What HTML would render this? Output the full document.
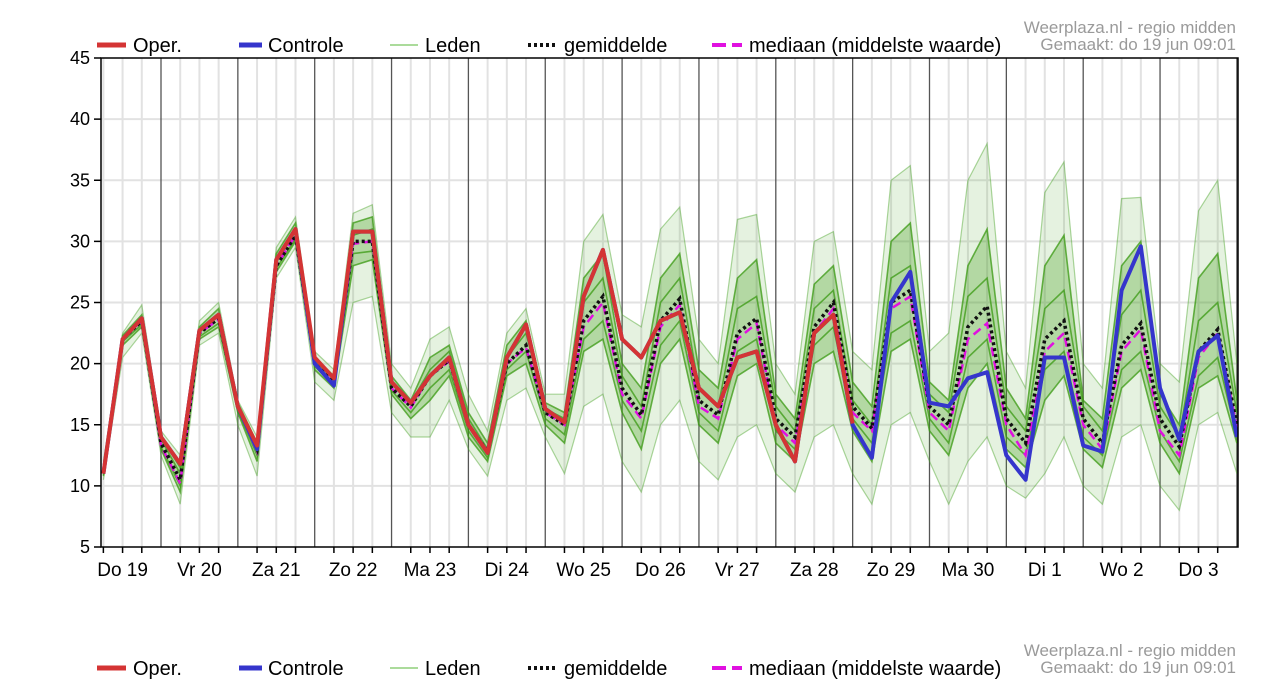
<!DOCTYPE html>
<html><head><meta charset="utf-8"><style>
html,body{margin:0;padding:0;background:#fff;width:1284px;height:680px;overflow:hidden}
svg{display:block}
text{font-family:"Liberation Sans",sans-serif}
</style></head><body>
<svg id="chart" width="1284" height="680"></svg>
<script>
const dayLabels=["Do 19","Vr 20","Za 21","Zo 22","Ma 23","Di 24","Wo 25","Do 26","Vr 27","Za 28","Zo 29","Ma 30","Di 1","Wo 2","Do 3"];
const yTicks=[5,10,15,20,25,30,35,40,45];
const oper=[11,22,23.7,14,11.8,22.7,24,16.5,13.3,28.5,31,20.5,18.8,30.8,30.8,18.5,16.8,19,20.5,15,12.7,20.5,23.2,16.3,15.2,25.5,29.3,22,20.5,23.5,24.2,18,16.5,20.5,21,15,12,22.5,24,15.1];
const controle=[11,22,23.7,14,11.8,22.7,24,16.5,13,28.5,31,20,18.2,30.8,30.8,18.5,16.8,19,20.5,15,12.7,20.5,23.2,16.3,15.2,25.5,29.3,22,20.5,23.5,24.2,18,16.5,20.5,21,15,12,22.5,24,15,12.3,25,27.5,16.8,16.5,18.8,19.3,12.5,10.5,20.5,20.5,13.3,12.8,26,29.6,18,13.8,21,22.3,14];
const gemiddelde=[11,22,23.5,13.5,10.5,22.5,23.7,16.5,13,28,30.5,20,18.5,30,30,18,16.5,19,20.3,15,12.8,20,21.5,16,15,23.5,25.5,18,15.8,23.5,25.3,17,15.8,22.5,23.7,15.5,14,23,25,16.5,14.7,25,26,16.5,15,23,24.7,15.5,13.5,22,23.5,15.5,13.5,21.5,23.3,15.5,13.2,21,22.8,15];
const mediaan=[11,22,23.5,13.3,10.2,22.5,23.6,16.4,12.8,28,30.5,20,18.4,29.8,30,18,16.4,19,20.2,15,12.7,20,21.3,16,15,23,25,17.5,15.5,23,24.8,16.5,15.5,22,23.3,15,13.5,22.5,24.5,16,14.5,24.5,25.5,16,14.5,22,23.3,15,12.5,21,22.5,15,13,21,22.8,14.5,12.5,20.5,22.5,14.8];
const ledenMax=[12,22.5,24.8,14.5,12.5,23.5,25,17,14,29.5,32,21,19.5,32.3,33,20,18,22,23,17.5,14.5,22.5,24.5,17.5,17.5,30,32.2,24,23,31,32.8,22,20,31.8,32.2,20,17.5,30,30.8,21,19.5,35,36.2,21,22.5,35,38,21,18,34,36.5,20,18,33.5,33.6,20,18.5,32.5,35,20];
const ledenMin=[10.5,20.5,22.5,12.5,8.5,21.5,22.5,15,10.8,27,29.5,18.5,17,25,25.5,16,14,14,17,13,10.8,17,18,14,11,16.5,17.5,12,9.5,15,17,12,10.5,14,15,11,9.5,14,15,11,8.5,15,16,12,8.5,12,14,10,9,11,14,10,8.5,14,15,10,8,15,16,11];
const ledenA=[11.5,22.3,24,14,11.5,23,24.5,16.8,13.5,29,31.5,20.5,19,31.5,32,19,17,20.5,21.5,16,13.5,21.5,23.5,16.8,16,27,29,20,18,27,29,19.5,18,27,28.5,17.5,15.5,26.5,28,18.5,16.5,30,31.5,18.5,17,28,31,18,15.5,28,30.5,17,15.5,28,30,17.5,15,27,29,17];
const ledenB=[10.8,21.5,23,13,9.5,22,23,16,12,27.5,30,19.5,18,28,28.5,17.5,15.5,17,19,14,12,19,20,15,13.5,21,22,16,13,20,22,15,13.5,19,20,13.5,12,20,21,14.5,12,21,22,14.5,12.5,18,20,13,11.5,17,19,13,11.5,18,19.5,13.5,11,18,19,13.5];
const ledenC=[11,22,23.8,13.8,11,22.8,24,16.6,13.2,28.5,30.8,20.2,18.7,30.5,31,18.5,16.8,19.5,21,15.5,13,20.5,22.5,16.3,15.5,25,27,19,16.5,25,27,18,16.5,24.5,25.5,16.5,14.5,24.5,26,17,15,27,28,17.5,16,25.5,27,16.5,14.5,24.5,26,16.5,14.5,24,26,16.5,14,23.5,25,16];
const ledenD=[10.9,21.8,23.2,13.2,10,22.2,23.3,16.2,12.5,27.8,30.2,19.8,18.2,29,29.2,17.8,16,18,19.5,14.5,12.3,19.5,21,15.5,14.2,22,23.5,17,14.5,21.5,23.5,16,14.5,21,22,14.5,13,21.5,23,15.5,13.5,22.5,23.5,15.5,13.5,20.5,22,14,12.5,19.5,21,14,12.5,19.5,21,14.5,12,19,20.5,14];

const NS="http://www.w3.org/2000/svg";
const svg=document.getElementById('chart');
const L=101,R=1238,T=58,B=547;
const pxH=76.85/24, day0=161;
function xh(h){return day0+(h-18)*pxH;}
function xi(i){return xh(i*6);}
function y(v){return B-(v-5)*(B-T)/40;}
function el(tag,attrs,parent){const e=document.createElementNS(NS,tag);for(const k in attrs)e.setAttribute(k,attrs[k]);(parent||svg).appendChild(e);return e;}

const grid=el('g',{});


yTicks.forEach(v=>{ if(v>5&&v<45) el('line',{x1:L,x2:R,y1:y(v),y2:y(v),stroke:'#e2e2e2','stroke-width':2},grid); });
for(let h=0;h*pxH+xh(0)<R;h+=6){
  const x=xh(h); if(x<L+1) continue;
  const mid=((h+6)%24===0);
  el('line',{x1:x,x2:x,y1:T,y2:B,stroke:mid?'#555':'#e2e2e2','stroke-width':mid?1.3:2},grid);
  if(!mid) el('line',{x1:x,x2:x,y1:B,y2:B+6,stroke:'#000','stroke-width':1.5},grid);
}
function pts(arr){return arr.map((v,i)=>xi(i).toFixed(1)+','+y(v).toFixed(1)).join(' ');}
function bandPts(a,b){return pts(a)+' '+b.map((v,i)=>xi(i).toFixed(1)+','+y(v).toFixed(1)).reverse().join(' ');}
const clip=el('clipPath',{id:'pc'});el('rect',{x:L,y:T,width:R-L,height:B-T},clip);
const plot=el('g',{'clip-path':'url(#pc)'});


const band=el('polygon',{points:bandPts(ledenMax,ledenMin),fill:'#5cb03c','fill-opacity':0.16},plot);


const core=el('polygon',{points:bandPts(ledenA,ledenB),fill:'#3f9c18','fill-opacity':0.3},plot);


[ledenMax,ledenMin].forEach(m=>{
  const p=el('polyline',{points:pts(m),fill:'none',stroke:'#4aa428','stroke-width':1.2,'stroke-opacity':0.45},plot);
  
  
});
[ledenA,ledenB,ledenC,ledenD].forEach(m=>{
  const p=el('polyline',{points:pts(m),fill:'none',stroke:'#3a9a12','stroke-width':1.6,'stroke-opacity':0.75},plot);
  
  
});
const pm=el('polyline',{points:pts(mediaan),fill:'none',stroke:'#e010e0','stroke-width':2.5,'stroke-dasharray':'9,5'},plot);


const pg=el('polyline',{points:pts(gemiddelde),fill:'none',stroke:'#111','stroke-width':3.5,'stroke-dasharray':'3,3'},plot);


const pc=el('polyline',{points:pts(controle),fill:'none',stroke:'#3535cc','stroke-width':4,'stroke-linejoin':'round'},plot);


const po=el('polyline',{points:pts(oper),fill:'none',stroke:'#d43434','stroke-width':4,'stroke-linejoin':'round'},plot);



const frame=el('rect',{x:L,y:T,width:R-L,height:B-T,fill:'none',stroke:'#000','stroke-width':1.5});


yTicks.forEach(v=>{
  el('line',{x1:L-7,x2:L,y1:y(v),y2:y(v),stroke:'#000','stroke-width':1.5});
  const t=el('text',{x:90,y:y(v)+6,'text-anchor':'end','font-size':18,fill:'#000'});t.textContent=v;
  
  
});
dayLabels.forEach((d,k)=>{
  const t=el('text',{x:xh(6+24*k),y:576,'text-anchor':'middle','font-size':19,fill:'#000'});t.textContent=d;
  
  
});
function legend(yy){
  const g=el('g',{});
  
  
  el('line',{x1:97,x2:126,y1:yy,y2:yy,stroke:'#d43434','stroke-width':5},g);
  el('line',{x1:239,x2:262,y1:yy,y2:yy,stroke:'#3535cc','stroke-width':5},g);
  el('line',{x1:390,x2:418,y1:yy,y2:yy,stroke:'#8fcf7a','stroke-width':1.5},g);
  el('line',{x1:528,x2:555,y1:yy,y2:yy,stroke:'#111','stroke-width':4,'stroke-dasharray':'3,3'},g);
  el('line',{x1:712,x2:742,y1:yy,y2:yy,stroke:'#e010e0','stroke-width':4,'stroke-dasharray':'14,6'},g);
  [['Oper.',133],['Controle',268],['Leden',425],['gemiddelde',564],['mediaan (middelste waarde)',749]].forEach(([s,x])=>{
    const t=el('text',{x:x,y:yy+7,'font-size':20,fill:'#000'},g);t.textContent=s;
    
    
  });
  const h1=el('text',{x:1236,y:yy-12,'text-anchor':'end','font-size':17,fill:'#9a9a9a'},g);h1.textContent='Weerplaza.nl - regio midden';
  const h2=el('text',{x:1236,y:yy+5,'text-anchor':'end','font-size':17,fill:'#9a9a9a'},g);h2.textContent='Gemaakt: do 19 jun 09:01';
}
legend(45);legend(668);
const t26=el('text',{x:90,y:693,'text-anchor':'end','font-size':18,fill:'#000'});t26.textContent='26';


</script>
</body></html>
